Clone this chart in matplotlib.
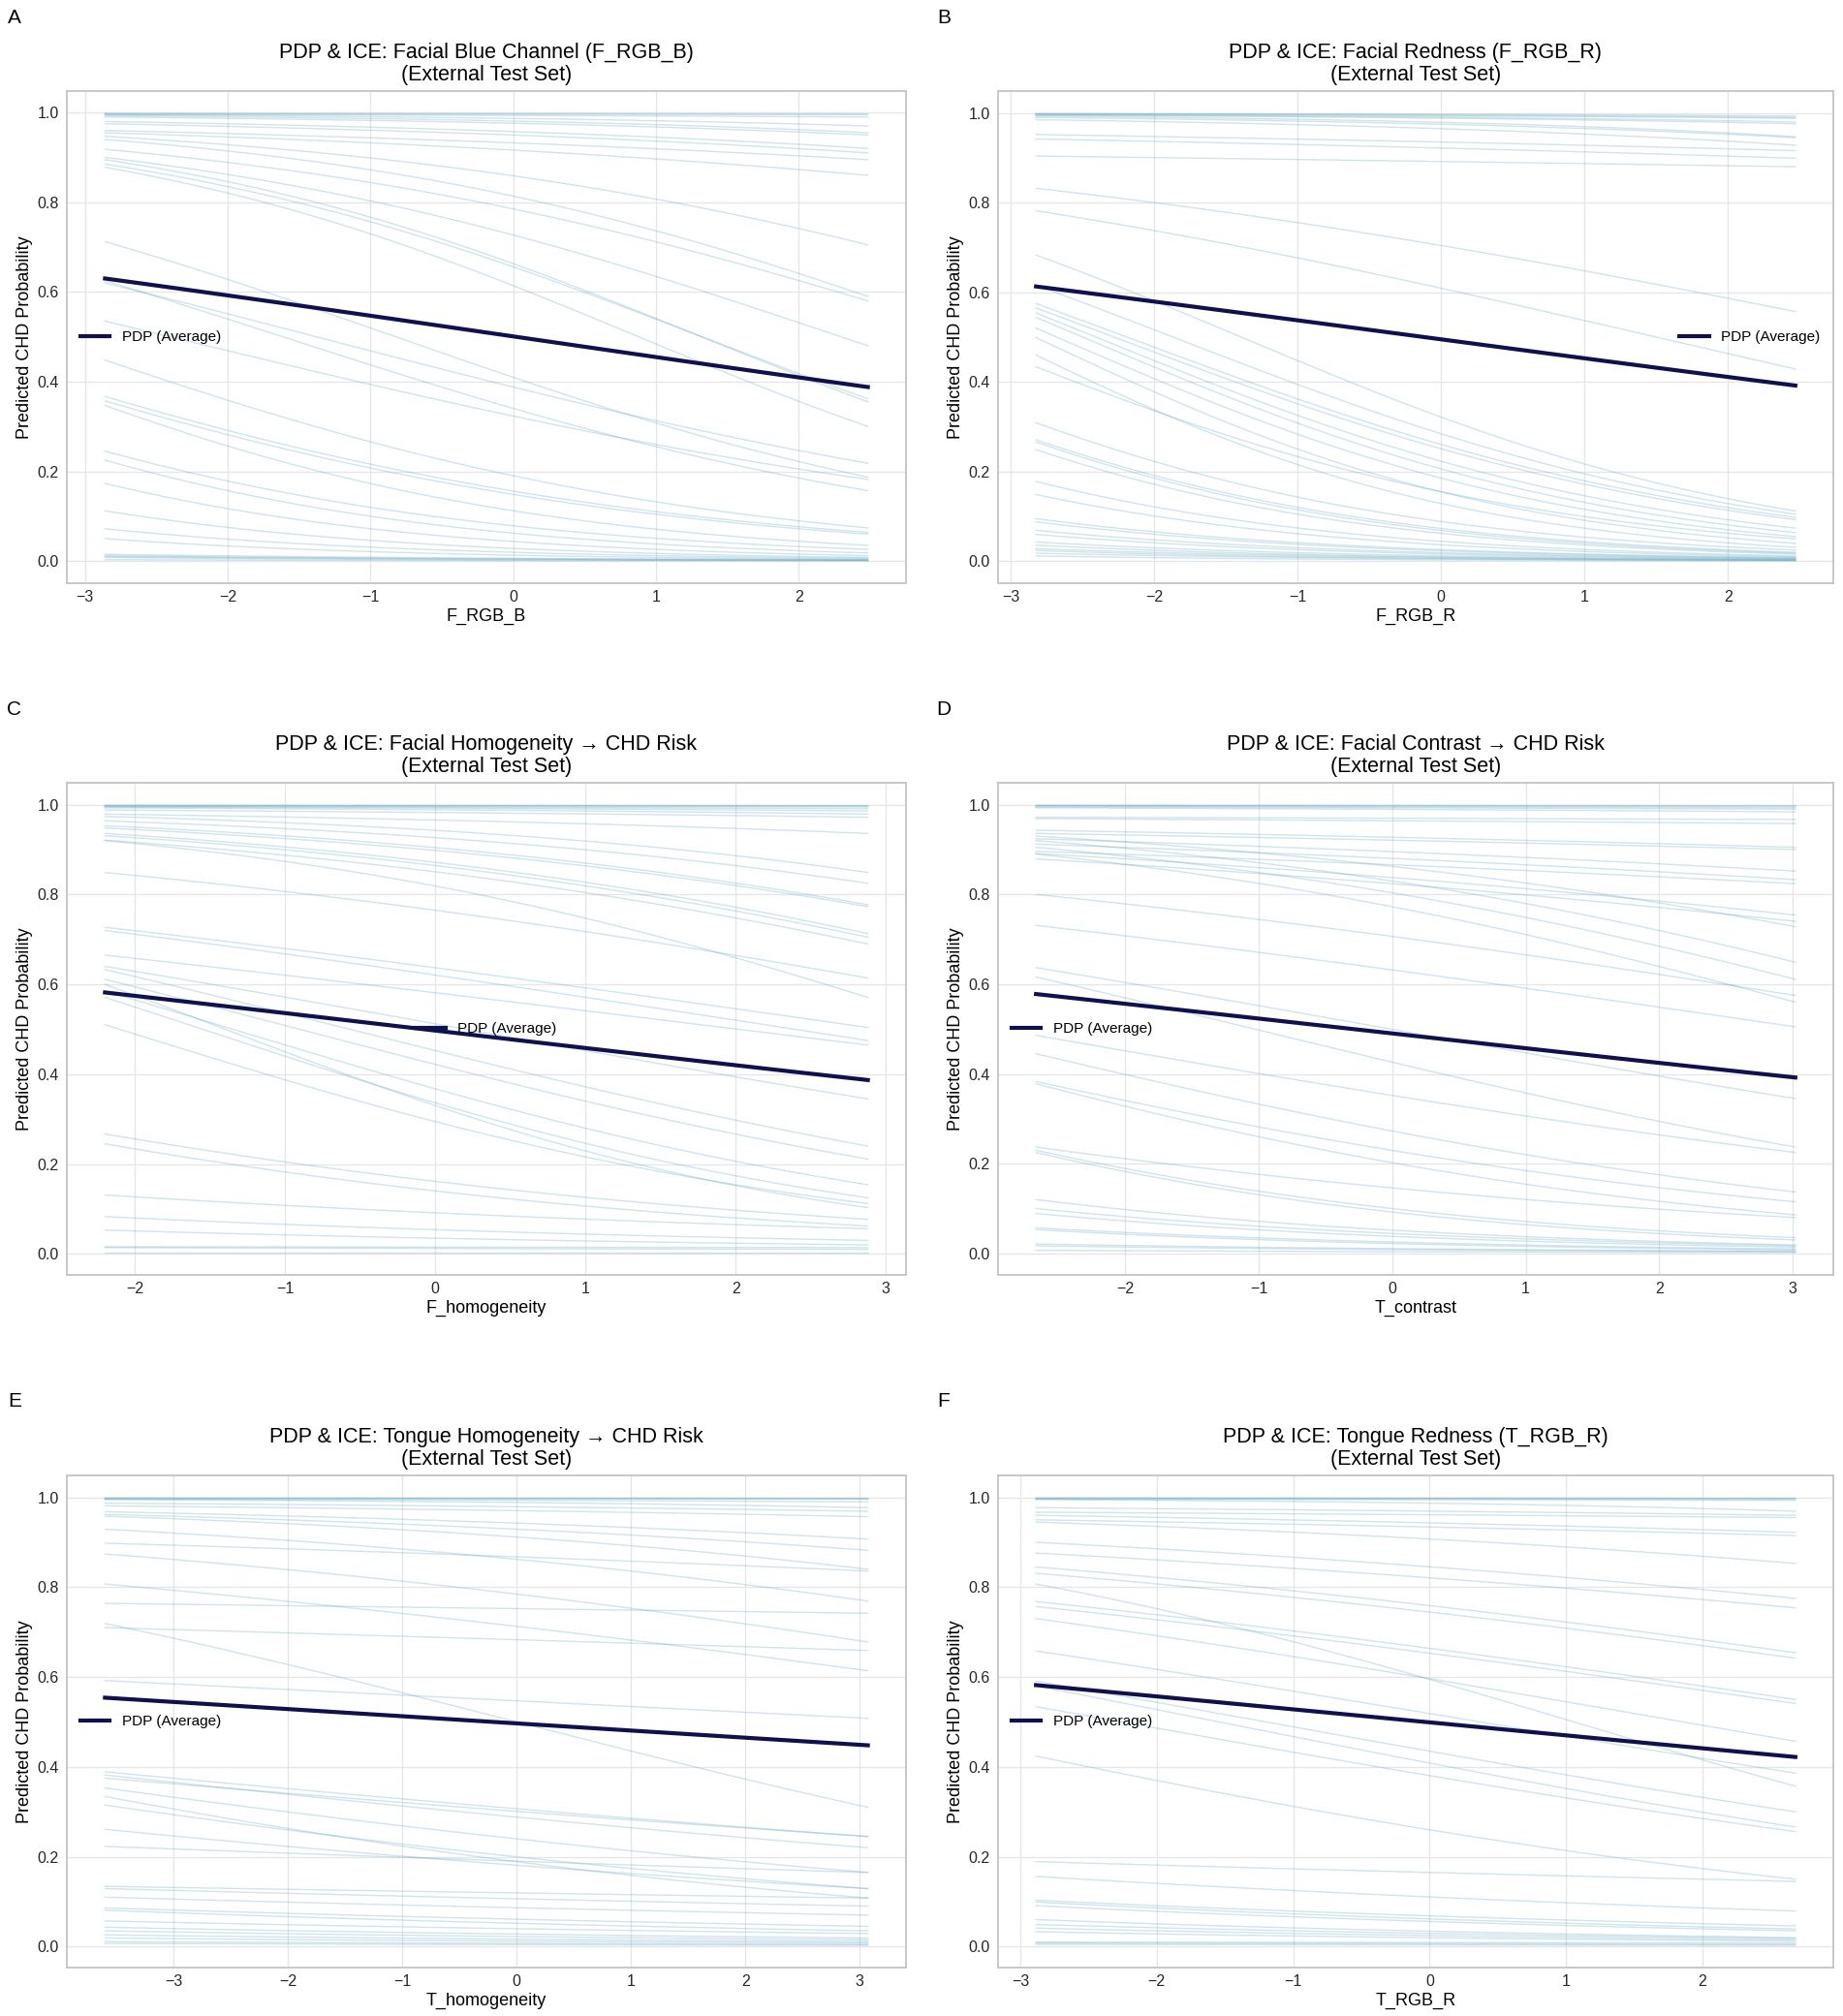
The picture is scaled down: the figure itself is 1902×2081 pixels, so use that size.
import numpy as np
import matplotlib
matplotlib.use('Agg')
import matplotlib.pyplot as plt

plt.rcParams['font.family'] = ['Liberation Sans', 'DejaVu Sans']

# ---- data: ICE start (left) / end (right) probabilities ----
# Panel A: F_RGB_B
A_range = [-2.86, 2.485]
A_left = [0.998, 0.997, 0.996, 0.995, 0.993, 0.99, 0.98, 0.975, 0.96, 0.955, 0.947, 0.94,
          0.918, 0.90, 0.895, 0.885, 0.878, 0.712, 0.625, 0.62, 0.535, 0.448, 0.367, 0.357,
          0.347, 0.245, 0.225, 0.173, 0.112, 0.072, 0.05, 0.015, 0.012, 0.01, 0.008, 0.003]
A_right = [0.997, 0.995, 0.99, 0.97, 0.955, 0.95, 0.92, 0.91, 0.895, 0.86, 0.705, 0.59,
           0.58, 0.48, 0.355, 0.362, 0.30, 0.187, 0.157, 0.218, 0.182, 0.074, 0.064, 0.06,
           0.035, 0.026, 0.018, 0.012, 0.008, 0.006, 0.004, 0.003, 0.002, 0.002, 0.001, 0.0005]
A_pdp = [0.63, 0.388]

# Panel B: F_RGB_R
B_range = [-2.825, 2.47]
B_left = [0.999, 0.998, 0.997, 0.996, 0.995, 0.993, 0.99, 0.985, 0.952, 0.942, 0.904,
          0.832, 0.782, 0.683, 0.616, 0.575, 0.565, 0.554, 0.544, 0.52, 0.499, 0.46, 0.434,
          0.309, 0.271, 0.266, 0.249, 0.178, 0.149, 0.095, 0.088, 0.069, 0.06, 0.043, 0.036,
          0.028, 0.024, 0.018, 0.012]
B_right = [0.993, 0.99, 0.988, 0.98, 0.976, 0.947, 0.945, 0.928, 0.916, 0.899, 0.88,
           0.557, 0.429, 0.112, 0.105, 0.098, 0.093, 0.074, 0.064, 0.055, 0.04, 0.031, 0.05,
           0.025, 0.02, 0.018, 0.016, 0.012, 0.01, 0.008, 0.007, 0.006, 0.005, 0.004, 0.003,
           0.003, 0.002, 0.002, 0.001]
B_pdp = [0.613, 0.392]

# Panel C: F_homogeneity
C_range = [-2.2, 2.88]
C_left = [0.999, 0.998, 0.997, 0.996, 0.995, 0.993, 0.988, 0.979, 0.974, 0.964, 0.953,
          0.948, 0.936, 0.931, 0.921, 0.92, 0.849, 0.727, 0.72, 0.665, 0.64, 0.633, 0.611,
          0.60, 0.585, 0.571, 0.51, 0.267, 0.245, 0.131, 0.083, 0.053, 0.016, 0.014, 0.003]
C_right = [0.998, 0.997, 0.995, 0.991, 0.986, 0.979, 0.972, 0.936, 0.849, 0.825, 0.777,
           0.773, 0.713, 0.705, 0.69, 0.571, 0.614, 0.504, 0.475, 0.465, 0.345, 0.24, 0.211,
           0.103, 0.154, 0.125, 0.112, 0.077, 0.062, 0.056, 0.03, 0.02, 0.014, 0.01, 0.003]
C_pdp = [0.582, 0.387]

# Panel D: T_contrast
D_range = [-2.67, 3.02]
D_left = [0.999, 0.998, 0.997, 0.995, 0.993, 0.972, 0.969, 0.943, 0.936, 0.93, 0.924,
          0.92, 0.912, 0.905, 0.896, 0.891, 0.89, 0.879, 0.8, 0.731, 0.637, 0.616, 0.486,
          0.445, 0.383, 0.378, 0.237, 0.23, 0.225, 0.12, 0.1, 0.089, 0.057, 0.053, 0.021,
          0.017, 0.007]
D_right = [0.998, 0.996, 0.993, 0.99, 0.984, 0.967, 0.958, 0.905, 0.9, 0.728, 0.852,
           0.649, 0.833, 0.611, 0.824, 0.754, 0.56, 0.74, 0.575, 0.505, 0.345, 0.237, 0.225,
           0.137, 0.115, 0.086, 0.08, 0.035, 0.03, 0.019, 0.017, 0.014, 0.01, 0.008, 0.005,
           0.004, 0.002]
D_pdp = [0.578, 0.392]

# Panel E: T_homogeneity
E_range = [-3.6, 3.07]
E_left = [0.999, 0.998, 0.997, 0.996, 0.995, 0.987, 0.981, 0.968, 0.962, 0.958, 0.929,
          0.898, 0.874, 0.807, 0.764, 0.719, 0.71, 0.592, 0.389, 0.382, 0.375, 0.353, 0.334,
          0.315, 0.261, 0.223, 0.134, 0.129, 0.11, 0.086, 0.081, 0.057, 0.043, 0.035, 0.026,
          0.019, 0.011, 0.007]
E_right = [0.998, 0.997, 0.996, 0.99, 0.977, 0.969, 0.957, 0.907, 0.882, 0.84, 0.769,
           0.836, 0.678, 0.614, 0.742, 0.31, 0.659, 0.508, 0.245, 0.22, 0.245, 0.165, 0.108,
           0.129, 0.129, 0.165, 0.108, 0.09, 0.07, 0.045, 0.035, 0.029, 0.019, 0.015, 0.011,
           0.008, 0.005, 0.003]
E_pdp = [0.554, 0.448]

# Panel F: T_RGB_R
F_range = [-2.885, 2.68]
F_left = [0.999, 0.998, 0.997, 0.996, 0.995, 0.977, 0.967, 0.96, 0.95, 0.945, 0.9, 0.876,
          0.845, 0.831, 0.807, 0.768, 0.757, 0.73, 0.658, 0.591, 0.58, 0.534, 0.424, 0.189,
          0.156, 0.103, 0.099, 0.091, 0.06, 0.049, 0.041, 0.033, 0.01, 0.008, 0.005]
F_right = [0.998, 0.997, 0.996, 0.993, 0.969, 0.96, 0.955, 0.922, 0.915, 0.853, 0.775,
           0.754, 0.654, 0.642, 0.357, 0.55, 0.541, 0.457, 0.386, 0.3, 0.266, 0.256, 0.15,
           0.145, 0.079, 0.046, 0.039, 0.035, 0.02, 0.018, 0.015, 0.012, 0.008, 0.005, 0.003]
F_pdp = [0.582, 0.422]

letters = ['A', 'B', 'C', 'D', 'E', 'F']
titles = ['PDP & ICE: Facial Blue Channel (F_RGB_B)\n(External Test Set)',
          'PDP & ICE: Facial Redness (F_RGB_R)\n(External Test Set)',
          'PDP & ICE: Facial Homogeneity \u2192 CHD Risk\n(External Test Set)',
          'PDP & ICE: Facial Contrast \u2192 CHD Risk\n(External Test Set)',
          'PDP & ICE: Tongue Homogeneity \u2192 CHD Risk\n(External Test Set)',
          'PDP & ICE: Tongue Redness (T_RGB_R)\n(External Test Set)']
xlabels = ['F_RGB_B', 'F_RGB_R', 'F_homogeneity', 'T_contrast', 'T_homogeneity', 'T_RGB_R']
legend_locs = ['center left', 'center right', 'center', 'center left', 'center left', 'center left']

ranges = [A_range, B_range, C_range, D_range, E_range, F_range]
lefts = [A_left, B_left, C_left, D_left, E_left, F_left]
rights = [A_right, B_right, C_right, D_right, E_right, F_right]
pdps = [A_pdp, B_pdp, C_pdp, D_pdp, E_pdp, F_pdp]


def logit(p):
    p = np.clip(p, 1e-4, 1 - 1e-4)
    return np.log(p / (1 - p))


def curve(x0, x1, p0, p1, n=60):
    # curve between the two read endpoints, straight in logit space
    x = np.linspace(x0, x1, n)
    t = (x - x0) / (x1 - x0)
    z = logit(p0) + (logit(p1) - logit(p0)) * t
    return x, 1 / (1 + np.exp(-z))


W, H = 1902, 2081
fig = plt.figure(figsize=(W / 100, H / 100), dpi=100)

col_left = [69, 1030]
col_w = [866, 862]
row_top = [94, 808, 1523]
ax_h = 508
letter_x = [15, 974]

for i in range(6):
    r, c = i // 2, i % 2
    ax = fig.add_axes([col_left[c] / W, 1 - (row_top[r] + ax_h) / H, col_w[c] / W, ax_h / H])
    x0, x1 = ranges[i]
    for p0, p1 in zip(lefts[i], rights[i]):
        xs, ys = curve(x0, x1, p0, p1)
        ax.plot(xs, ys, color='#62a6c0', alpha=0.3, lw=1.0, zorder=2)
    xs, ys = curve(x0, x1, pdps[i][0], pdps[i][1])
    ax.plot(xs, ys, color='#10104f', lw=3.0, zorder=4, label='PDP (Average)')

    ax.set_title(titles[i], fontsize=15.5, pad=8, linespacing=1.1)
    ax.set_xlabel(xlabels[i], fontsize=13, labelpad=3)
    ax.set_ylabel('Predicted CHD Probability', fontsize=13, labelpad=3)
    ax.tick_params(axis='both', length=0, labelsize=11.5, colors='#262626')
    ax.tick_params(axis='x', pad=5)
    ax.tick_params(axis='y', pad=6)
    ax.grid(True, color='#e6e6e6', lw=1.0)
    ax.set_axisbelow(True)
    for s in ax.spines.values():
        s.set_color('#c4c4c4')
        s.set_linewidth(1.3)
    ax.legend(loc=legend_locs[i], frameon=False, fontsize=11)

    fig.text(letter_x[c] / W, 1 - (row_top[r] - 76) / H, letters[i], fontsize=15,
             ha='center', va='center')

fig.savefig('out.png', dpi=100)
